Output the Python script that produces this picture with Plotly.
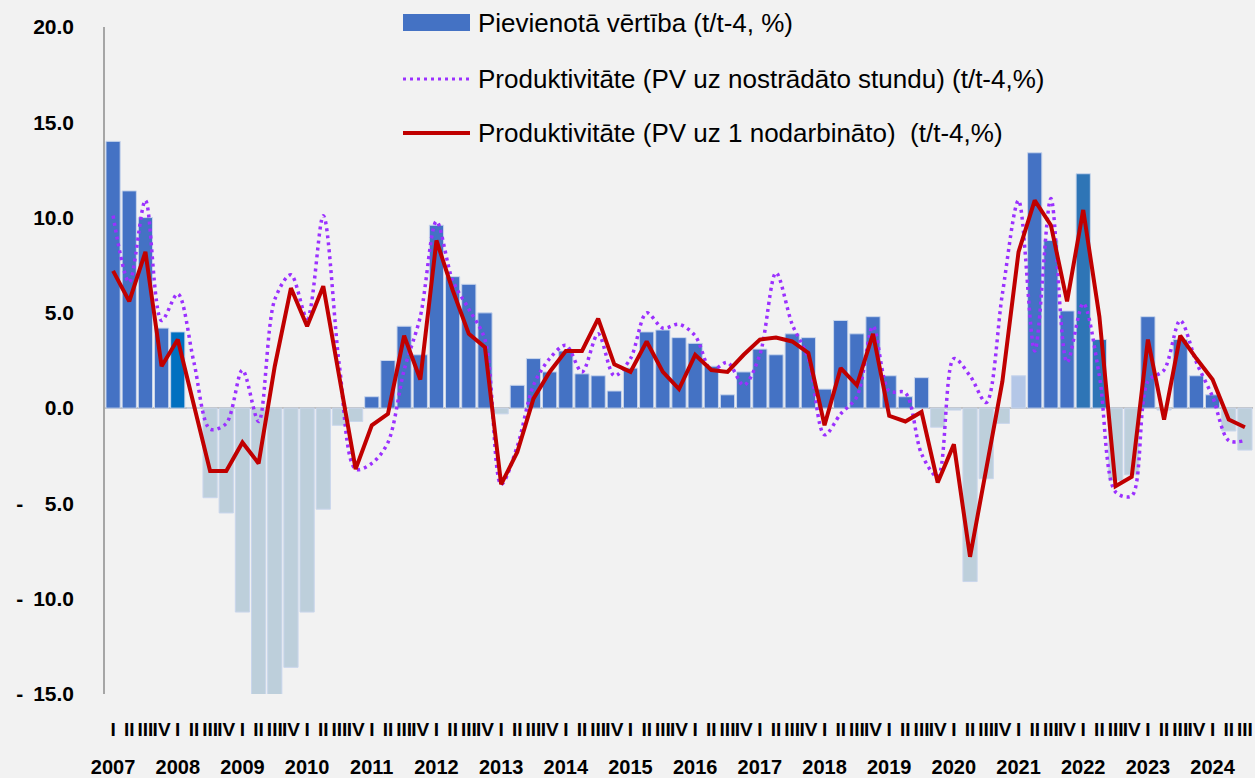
import plotly.graph_objects as go

# ── Data ──────────────────────────────────────────────────────────────────────
years = [str(y) for y in range(2007, 2025)]
quarters = ["I", "II", "III", "IV"]
n_quarters_last = 3  # 2024 has I-III

# Pievienotā vērtība (t/t-4, %)
value_added = [
    14.0, 11.4, 10.0, 4.2,
    4.0, 0.0, -4.7, -5.5,
    -10.7, -15.1, -15.1, -13.6,
    -10.7, -5.3, -0.9, -0.7,
    0.6, 2.5, 4.3, 2.8,
    9.6, 6.9, 6.5, 5.0,
    -0.3, 1.2, 2.6, 1.9,
    3.0, 1.8, 1.7, 0.9,
    2.1, 4.0, 4.1, 3.7,
    3.4, 2.2, 0.7, 1.9,
    3.1, 2.8, 3.9, 3.7,
    1.0, 4.6, 3.9, 4.8,
    1.7, 0.6, 1.6, -1.0,
    -0.1, -9.1, -3.7, -0.8,
    1.7, 13.4, 8.8, 5.1,
    12.3, 3.6, -3.8, -3.5,
    4.8, -0.1, 3.6, 1.7,
    0.7, -1.2, -2.2,
]

# Produktivitāte (PV uz nostrādāto stundu)
prod_hours = [
    10.1, 6.6, 10.9, 4.6,
    6.0, 2.4, -1.1, -0.8,
    2.0, -0.7, 5.7, 7.0,
    4.7, 10.1, 2.2, -3.2,
    -2.9, -1.8, 2.0, 4.8,
    9.8, 6.7, 5.2, 3.6,
    -4.0, -2.0, 1.2, 2.6,
    3.3, 1.9, 3.9, 1.7,
    2.6, 5.0, 4.2, 4.4,
    3.8, 2.0, 2.4, 1.2,
    2.8, 7.1, 4.4, 2.6,
    -1.4, -0.3, 0.6, 4.3,
    0.9, 0.8, -2.4, -3.6,
    2.6, 1.7, 0.3, 6.0,
    10.9, 3.0, 11.0, 2.4,
    5.5, 1.7, -4.4, -4.6,
    1.4, 2.0, 4.6, 2.4,
    0.6, -1.7, -1.7,
]

# Produktivitāte (PV uz 1 nodarbināto)
prod_employed = [
    7.2, 5.6, 8.2, 2.2,
    3.6, 0.1, -3.3, -3.3,
    -1.8, -2.9, 2.2, 6.3,
    4.3, 6.4, 1.6, -3.2,
    -0.9, -0.3, 3.8, 1.5,
    8.8, 6.2, 3.9, 3.2,
    -4.0, -2.3, 0.5, 1.9,
    3.0, 3.0, 4.7, 2.3,
    1.9, 3.5, 1.9, 1.0,
    2.8, 2.0, 1.9, 2.8,
    3.6, 3.7, 3.5, 2.9,
    -0.9, 2.1, 1.2, 3.9,
    -0.4, -0.7, -0.2, -3.9,
    -1.9, -7.8, -3.2, 1.4,
    8.2, 10.9, 9.6, 5.6,
    10.4, 4.8, -4.1, -3.6,
    3.6, -0.6, 3.8, 2.6,
    1.5, -0.6, -1.0,
]

# bars drawn in a different shade in the source chart
highlight = {("2008", "I"): "#0070C0", ("2021", "I"): "#B4C7E7",
             ("2022", "I"): "#2E75B6", ("2022", "II"): "#2E75B6"}

# ── Palette / layout constants ────────────────────────────────────────────────
_BLUE = "#4472C4"
_NEG = "#BDCFDB"
_RED = "#C00000"
_PURPLE = "#9B30FF"
_BG = "#F2F2F2"
_AXIS = "#A6A6A6"
_FAMILY = "'Liberation Sans', Arial, sans-serif"
_YTICK_FONT = dict(family=_FAMILY, size=21, color="#000000", weight="bold")
_QTICK_FONT = dict(family=_FAMILY, size=19, color="#000000", weight="bold")
_YEAR_FONT = dict(family=_FAMILY, size=20, color="#000000", weight="bold")
_LEG_FONT = dict(family=_FAMILY, size=26, color="#000000")

W, H = 1255, 778
L, R, T, B = 105, 2, 27, 84


def _px(x):
    return (x - L) / (W - L - R)


def _py(y):
    return (H - B - y) / (H - T - B)


# ── Categories ────────────────────────────────────────────────────────────────
cat_year, cat_q = [], []
year_pos = []   # year label sits under the first quarter, as in the source
for i, y in enumerate(years):
    qs = quarters if i < len(years) - 1 else quarters[:n_quarters_last]
    year_pos.append(len(cat_q))
    for q in qs:
        cat_year.append(y)
        cat_q.append(q)
idx = list(range(len(cat_q)))
n = len(idx)

bar_colors = [highlight.get((y, q), _BLUE if v >= 0 else _NEG)
              for y, q, v in zip(cat_year, cat_q, value_added)]

fig = go.Figure()

fig.add_trace(go.Bar(
    x=idx, y=value_added,
    name="Pievienotā vērtība (t/t-4, %)",
    marker=dict(color=bar_colors, line=dict(color="#C9D6EC", width=1)),
    customdata=[f"{y} {q}" for y, q in zip(cat_year, cat_q)],
    hovertemplate="%{customdata}: %{y:.1f}%<extra></extra>",
))

fig.add_trace(go.Scatter(
    x=idx, y=prod_hours,
    name="Produktivitāte (PV uz nostrādāto stundu) (t/t-4,%)",
    mode="lines",
    line=dict(color=_PURPLE, width=3.5, dash="3px,4px", shape="spline", smoothing=0.9),
))

fig.add_trace(go.Scatter(
    x=idx, y=prod_employed,
    name="Produktivitāte (PV uz 1 nodarbināto)  (t/t-4,%)",
    mode="lines",
    line=dict(color=_RED, width=4),
))

# invisible carrier for the year axis
fig.add_trace(go.Scatter(x=[year_pos[0]], y=[None], xaxis="x2",
                         hoverinfo="skip", showlegend=False))

# ── Hand-drawn legend (wide swatches like the source) ────────────────────────
shapes = [
    dict(type="rect", xref="paper", yref="paper",
         x0=_px(403), x1=_px(470), y0=_py(31), y1=_py(14),
         fillcolor=_BLUE, line=dict(width=0)),
    dict(type="line", xref="paper", yref="paper",
         x0=_px(403), x1=_px(470), y0=_py(79), y1=_py(79),
         line=dict(color=_PURPLE, width=3, dash="3px,4px")),
    dict(type="line", xref="paper", yref="paper",
         x0=_px(403), x1=_px(470), y0=_py(133), y1=_py(133),
         line=dict(color=_RED, width=4)),
]
legend_rows = [(23, fig.data[0].name), (79, fig.data[1].name), (133, fig.data[2].name)]
annotations = [
    dict(xref="paper", yref="paper", x=_px(476), y=_py(yy), text=txt,
         showarrow=False, xanchor="left", yanchor="middle", font=_LEG_FONT)
    for yy, txt in legend_rows
]

NB, TH = "\u00a0", "\u2009"
ytick_vals = [20, 15, 10, 5, 0, -5, -10, -15]
ytick_text = ["20.0", "15.0", "10.0", "5.0", "0.0",
              "-" + NB * 3 + TH + "5.0", "-" + NB + TH + "10.0", "-" + NB + TH + "15.0"]

fig.update_layout(
    width=W, height=H,
    margin=dict(l=L, r=R, t=T, b=B, pad=0),
    paper_bgcolor=_BG,
    plot_bgcolor=_BG,
    bargap=0.12,
    showlegend=False,
    shapes=shapes,
    annotations=annotations,
    xaxis=dict(
        range=[-0.5, n - 0.5],
        tickmode="array",
        tickvals=idx,
        ticktext=cat_q,
        showgrid=False,
        showline=False,
        zeroline=False,
        ticks="",
        tickangle=0,
        tickfont=_QTICK_FONT,
        ticklabelstandoff=22,
        automargin=False,
    ),
    xaxis2=dict(
        overlaying="x",
        anchor="y",
        side="bottom",
        range=[-0.5, n - 0.5],
        tickmode="array",
        tickvals=year_pos,
        ticktext=years,
        showgrid=False,
        showline=False,
        zeroline=False,
        ticks="",
        tickangle=0,
        tickfont=_YEAR_FONT,
        ticklabelstandoff=59,
        automargin=False,
    ),
    yaxis=dict(
        range=[-15, 20],
        tickvals=ytick_vals,
        ticktext=ytick_text,
        tickfont=_YTICK_FONT,
        showgrid=False,
        showline=True,
        linecolor=_AXIS,
        linewidth=1.5,
        zeroline=True,
        zerolinecolor="#BFBFBF",
        zerolinewidth=2,
        ticks="",
        ticklabelstandoff=25,
        automargin=False,
    ),
)

# the page body has a default 8px margin; drop it so the figure fills the window
fig.write_html("out.html", config={"displayModeBar": False},
               post_script="document.body.style.margin='0px';")
